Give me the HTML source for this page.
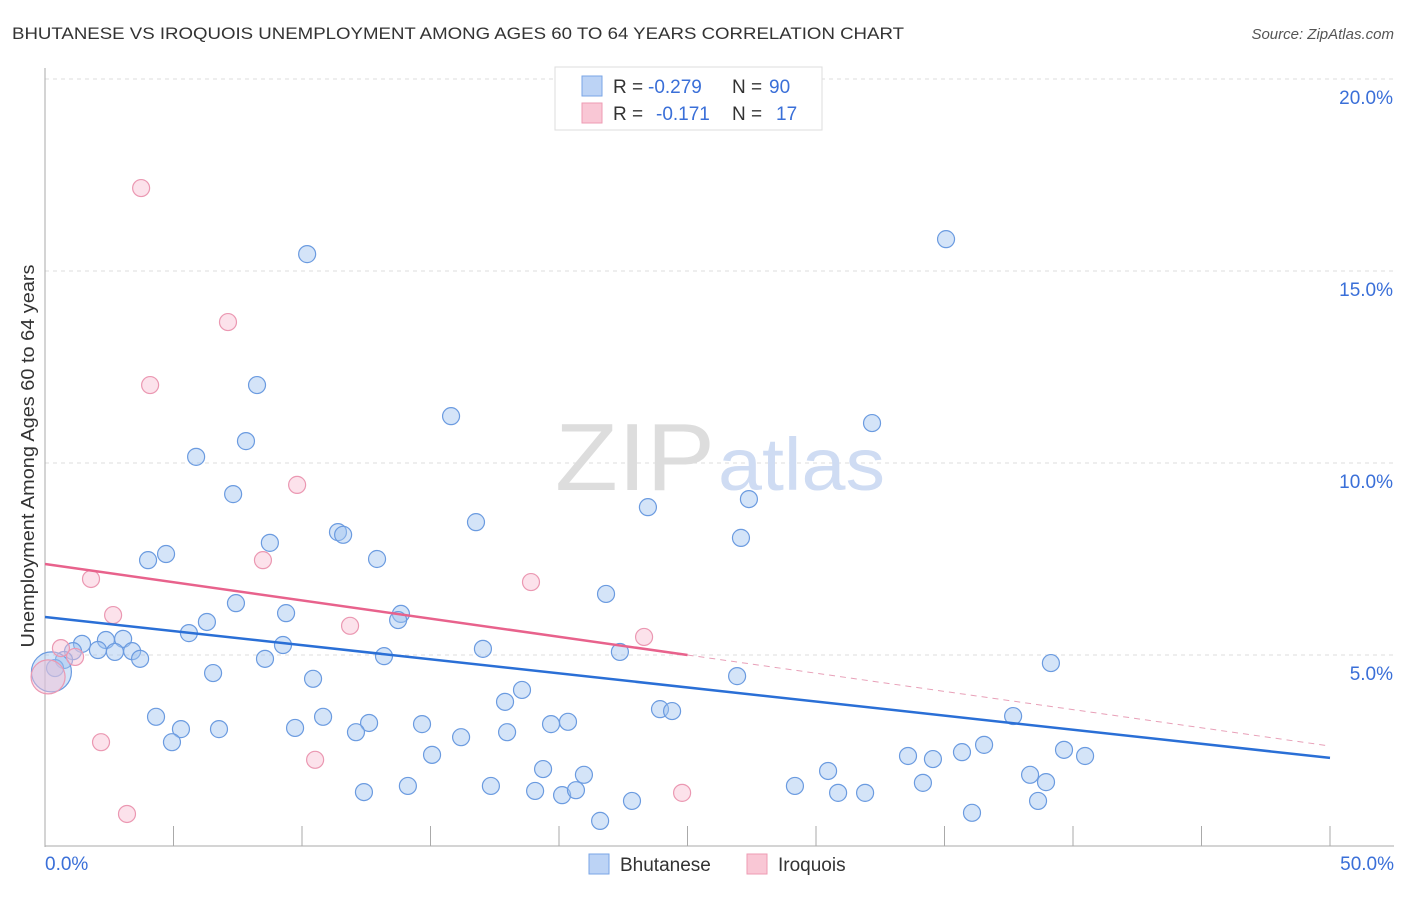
<!DOCTYPE html>
<html><head><meta charset="utf-8"><style>
body{margin:0;background:#fff;font-family:"Liberation Sans",sans-serif;}
svg text{font-family:"Liberation Sans",sans-serif;}
</style></head><body>
<svg id="chart" width="1406" height="892">
<text x="12" y="39" font-size="17" fill="#333" textLength="892" lengthAdjust="spacingAndGlyphs">BHUTANESE VS IROQUOIS UNEMPLOYMENT AMONG AGES 60 TO 64 YEARS CORRELATION CHART</text>
<text x="1394" y="39" font-size="15" fill="#555" text-anchor="end" font-style="italic">Source: ZipAtlas.com</text>
<text transform="translate(34,456) rotate(-90)" font-size="18" fill="#333" text-anchor="middle" textLength="383" lengthAdjust="spacingAndGlyphs">Unemployment Among Ages 60 to 64 years</text>
<g id="grid"></g><g id="ticks"></g>
<text x="715" y="490" font-size="96" fill="#ddd" text-anchor="end" font-family="Liberation Serif" textLength="160" lengthAdjust="spacingAndGlyphs">ZIP</text>
<text x="718" y="490" font-size="74" fill="#cfdcf3" textLength="167" lengthAdjust="spacingAndGlyphs">atlas</text>
<g id="marks"></g><g id="trends"></g>
<g>
<rect x="555" y="67" width="267" height="63" fill="#fff" stroke="#ddd"/>
<rect x="582" y="76" width="20" height="20" fill="#bcd3f5" stroke="#7aa6e6"/>
<rect x="582" y="103" width="20" height="20" fill="#f9c7d5" stroke="#ee9bb3"/>
<text x="613" y="93" font-size="19" fill="#333">R =</text>
<text x="648" y="93" font-size="19" fill="#3a6fd8">-0.279</text>
<text x="732" y="93" font-size="19" fill="#333">N =</text>
<text x="769" y="93" font-size="19" fill="#3a6fd8">90</text>
<text x="613" y="120" font-size="19" fill="#333">R =</text>
<text x="656" y="120" font-size="19" fill="#3a6fd8">-0.171</text>
<text x="732" y="120" font-size="19" fill="#333">N =</text>
<text x="776" y="120" font-size="19" fill="#3a6fd8">17</text>
</g>
<g>
<rect x="589" y="854" width="20" height="20" fill="#bcd3f5" stroke="#7aa6e6"/>
<text x="620" y="871" font-size="19" fill="#333">Bhutanese</text>
<rect x="747" y="854" width="20" height="20" fill="#f9c7d5" stroke="#ee9bb3"/>
<text x="778" y="871" font-size="19" fill="#333">Iroquois</text>
</g>
</svg>
<script>
const blueX=[10.2,35.06,8.25,15.8,32.18,7.82,5.88,7.32,27.39,23.46,16.77,11.4,11.6,27.08,8.75,4.71,4.01,12.92,21.83,7.43,9.38,13.85,13.74,6.3,5.6,1.44,2.37,3.04,9.26,1.09,2.06,2.72,3.39,17.04,22.37,3.7,8.56,13.19,39.14,0.74,0.39,0.25,6.54,26.93,10.43,18.56,17.9,4.32,10.82,23.93,24.4,37.67,5.29,6.77,9.73,12.61,14.67,19.69,20.35,12.1,17.98,16.19,4.94,36.54,35.68,33.58,34.55,39.65,40.47,15.06,19.38,20.97,30.47,38.33,38.95,34.16,29.18,17.35,14.12,12.41,19.07,20.12,20.66,30.86,31.91,22.84,38.64,21.6,36.07];
const blueY=[15.44,15.83,12.03,11.22,11.04,10.57,10.16,9.19,9.06,8.85,8.46,8.2,8.13,8.05,7.92,7.63,7.47,7.5,6.59,6.35,6.09,6.07,5.91,5.86,5.57,5.29,5.39,5.42,5.26,5.1,5.13,5.08,5.1,5.16,5.08,4.9,4.9,4.97,4.79,4.87,4.66,4.56,4.53,4.45,4.38,4.09,3.78,3.39,3.39,3.59,3.54,3.41,3.07,3.07,3.1,3.23,3.2,3.2,3.26,2.99,2.99,2.86,2.73,2.66,2.47,2.37,2.29,2.53,2.37,2.4,2.03,1.88,1.98,1.88,1.69,1.67,1.59,1.59,1.59,1.43,1.46,1.35,1.48,1.41,1.41,1.2,1.2,0.68,0.89];
const blueR=blueX.map((v,i)=>i===41?20:8.5);
const pinkX=[3.74,7.12,4.09,9.81,8.48,1.79,18.91,2.65,11.87,23.31,0.62,1.17,0.12,2.18,10.51,24.79,3.19];
const pinkY=[17.16,13.67,12.03,9.43,7.47,6.98,6.9,6.04,5.76,5.47,5.18,4.95,4.43,2.73,2.27,1.41,0.86];
const pinkR=pinkX.map((v,i)=>i===12?17:8.5);
const blueTrend=[5.99,2.32];
const pinkTrend=[7.37,2.63];
const yTicks=[5,10,15,20];
const xTicks=[0,5,10,15,20,25,30,35,40,45,50];
const NS='http://www.w3.org/2000/svg';
const sx=v=>45+v/50*1285, sy=v=>847-v*38.4;
function mk(tag,parent,attrs){const e=document.createElementNS(NS,tag);for(const k in attrs)e.setAttribute(k,attrs[k]);document.getElementById(parent).appendChild(e);return e;}
yTicks.forEach(t=>{
 const l=mk('line','grid',{x1:45,x2:1394,y1:sy(t),y2:sy(t),stroke:'#ddd','stroke-dasharray':'4,4'});
 
 
 const tx=mk('text','grid',{x:1393,y:sy(t)+25,'font-size':19,fill:'#3a6fd8','text-anchor':'end'});tx.textContent=t.toFixed(1)+'%';
 
 
});
const ax=mk('line','ticks',{x1:45,x2:45,y1:68,y2:847,stroke:'#aaa'});


const bx=mk('line','ticks',{x1:45,x2:1394,y1:846,y2:846,stroke:'#aaa'});


xTicks.forEach(t=>{
 const l=mk('line','ticks',{x1:sx(t),x2:sx(t),y1:826,y2:846,stroke:'#aaa'});
 
 
});
[[0,'0.0%','start',45],[50,'50.0%','end',1394]].forEach(d=>{
 const tx=mk('text','ticks',{x:d[3],y:870,'font-size':19,fill:'#3a6fd8','text-anchor':d[2]});tx.textContent=d[1];
 
 
});
blueX.forEach((x,i)=>{
 const c=mk('circle','marks',{cx:sx(x),cy:sy(blueY[i]),r:blueR[i],fill:'rgba(160,195,240,0.45)',stroke:'#6b9be0','stroke-width':1.2});
 
 
});
pinkX.forEach((x,i)=>{
 const c=mk('circle','marks',{cx:sx(x),cy:sy(pinkY[i]),r:pinkR[i],fill:'rgba(248,190,210,0.45)',stroke:'#eb98b2','stroke-width':1.2});
 
 
});
const bt=mk('line','trends',{x1:sx(0),y1:sy(blueTrend[0]),x2:sx(50),y2:sy(blueTrend[1]),stroke:'#2a6fd6','stroke-width':2.5});


const pAt=x=>pinkTrend[0]+(pinkTrend[1]-pinkTrend[0])*x/50;
const pt=mk('line','trends',{x1:sx(0),y1:sy(pAt(0)),x2:sx(25),y2:sy(pAt(25)),stroke:'#e8628c','stroke-width':2.5});


const pd=mk('line','trends',{x1:sx(25),y1:sy(pAt(25)),x2:sx(50),y2:sy(pAt(50)),stroke:'#e8a0b8','stroke-width':1,'stroke-dasharray':'6,5'});


</script>
</body></html>
